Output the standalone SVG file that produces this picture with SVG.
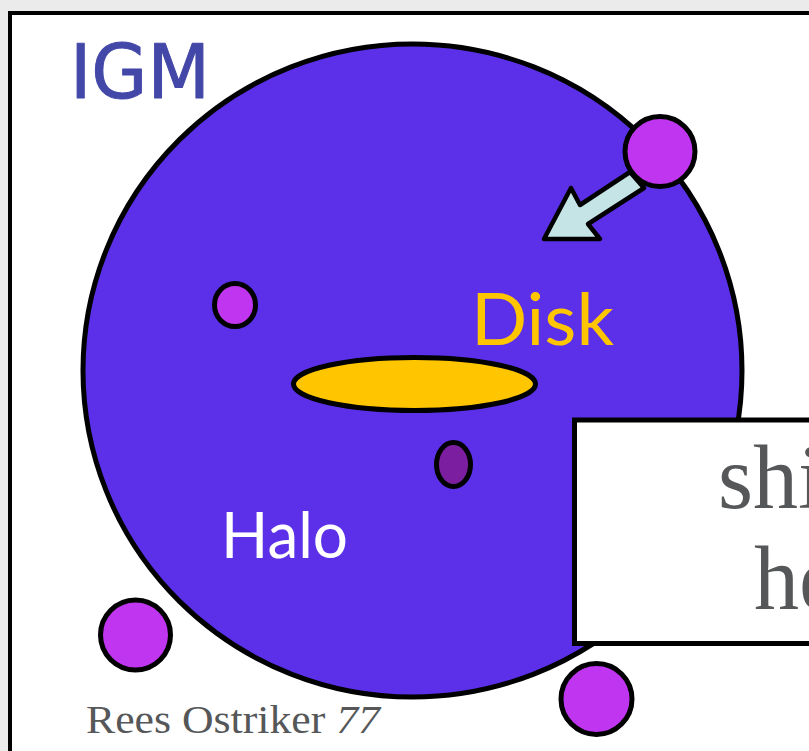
<svg xmlns="http://www.w3.org/2000/svg" width="809" height="751" viewBox="0 0 809 751">
  <style>
    .ol { stroke: #000; stroke-width: 5; }
    .sat { fill: #bf35f0; }
    .serif { font-family: "Liberation Serif", "DejaVu Serif", serif; fill: #555759; }
    .humanist { font-family: Lato, "Open Sans", "Liberation Sans", sans-serif; }
  </style>
  <rect x="0" y="0" width="809" height="751" fill="#ebebeb"/>
  <g id="panel">
    <rect x="10" y="13" width="900" height="900" fill="#ffffff" stroke="#000" stroke-width="4"/>
  </g>
  <g id="igm-label">
    <text x="70" y="98" font-family="'DejaVu Sans', 'Liberation Sans', sans-serif" font-size="74" fill="#4347a8" stroke="#4347a8" stroke-width="1" stroke-linejoin="round" textLength="140" lengthAdjust="spacingAndGlyphs">IGM</text>
  </g>
  <g id="halo">
    <ellipse cx="412.5" cy="370.5" rx="329.5" ry="326.5" fill="#5b30e8" class="ol"/>
    <text x="221" y="558" class="humanist" font-size="64" fill="#ffffff" textLength="127" lengthAdjust="spacingAndGlyphs">Halo</text>
  </g>
  <g id="disk">
    <ellipse cx="414.5" cy="384" rx="121" ry="26.5" fill="#ffc600" class="ol"/>
    <text x="471" y="345" class="humanist" font-size="71" fill="#ffc600" textLength="143" lengthAdjust="spacingAndGlyphs">Disk</text>
  </g>
  <g id="inner-satellite">
    <ellipse cx="235" cy="305" rx="20.5" ry="21.5" class="ol sat"/>
  </g>
  <g id="core-blob">
    <ellipse cx="453.5" cy="464.5" rx="17" ry="22" fill="#7b1fa0" class="ol"/>
  </g>
  <g id="connectors">
    <polygon points="544,239 571,188 580,205 630,172 644,188 588,224 600,239" fill="#c4e4e6" stroke="#000" stroke-width="4.5" stroke-linejoin="round"/>
  </g>
  <g id="infalling-satellite">
    <circle cx="660" cy="151.5" r="35" class="ol sat"/>
  </g>
  <g id="satellite-bottom-left">
    <circle cx="135.5" cy="635" r="35" class="ol sat"/>
  </g>
  <g id="satellite-bottom">
    <circle cx="596.5" cy="699" r="35.5" class="ol sat"/>
  </g>
  <g id="callout">
    <rect x="574.5" y="420" width="400" height="223.5" fill="#ffffff" class="ol"/>
    <text x="718" y="508" class="serif" font-size="90">shi</text>
    <text x="754" y="609" class="serif" font-size="90">he</text>
  </g>
  <g id="citation">
    <text x="86" y="733" class="serif" font-size="39" fill="#666666" textLength="294" lengthAdjust="spacingAndGlyphs">Rees Ostriker <tspan font-style="italic">77</tspan></text>
  </g>
</svg>
